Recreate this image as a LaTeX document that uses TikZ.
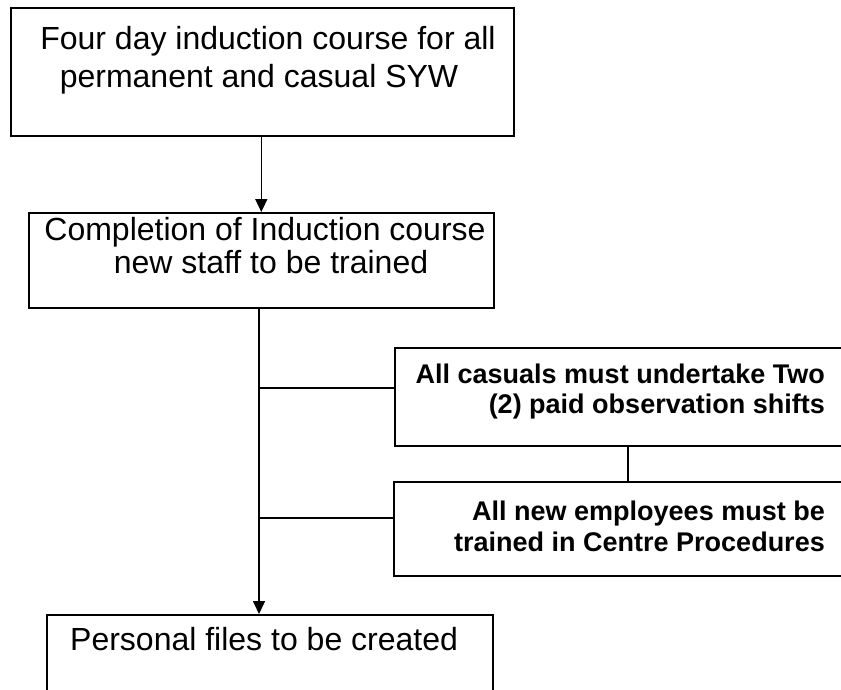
\documentclass[tikz,border=0pt]{standalone}
\usepackage{fontspec}
\setmainfont{Liberation Sans}
\usetikzlibrary{arrows.meta}
\tikzset{
  box/.style={draw=black, line width=1.6pt, minimum width=#1, inner sep=0pt, anchor=north west},
  reg/.style={font=\fontsize{32}{36}\selectfont, inner sep=0pt, anchor=base},
  bld/.style={font=\fontsize{27}{31}\selectfont\bfseries, inner sep=0pt, anchor=base east},
  link/.style={line width=1.6pt},
  arr/.style={line width=1.6pt, -{Triangle[length=13pt,width=12pt]}}
}
\begin{document}
\begin{tikzpicture}[x=1pt,y=-1pt]
\useasboundingbox (0,0) rectangle (841,689);
% boxes
\node[box=503pt, minimum height=128pt] (top) at (10,7) {};
\node[box=465pt, minimum height=95pt] (b2) at (28,212) {};
\node[box=447pt, minimum height=98pt] (b3) at (394,347) {};
\node[box=448pt, minimum height=94pt] (b4) at (393,481) {};
\node[box=446pt, minimum height=110pt] (b5) at (46,614) {};
% texts
\node[reg] (t1a) at (268,49) {Four day induction course for all};
\node[reg] (t1b) at (259,87) {permanent and casual SYW};
\node[reg] (t2a) at (265,240) {Completion of Induction course};
\node[reg] (t2b) at (271,273) {new staff to be trained};
\node[bld] (t3a) at (825,383) {All casuals must undertake Two};
\node[bld] (t3b) at (825,413) {(2) paid observation shifts};
\node[bld] (t4a) at (825,520) {All new employees must be};
\node[bld] (t4b) at (825,551) {trained in Centre Procedures};
\node[reg, anchor=base west] (t5) at (70,650) {Personal files to be created};
% connectors
\draw[arr] (top.south -| b2.north) -- (b2.north);
\coordinate (sx) at (259,0);
\draw[arr] (b2.south -| sx) -- (b5.north -| sx);
\coordinate (j1) at (259,388);
\coordinate (j2) at (259,518);
\draw[link] (j1) -- (j1 -| b3.west);
\draw[link] (j2) -- (j2 -| b4.west);
\coordinate (k) at (628,0);
\draw[link] (b3.south -| k) -- (b4.north -| k);
\end{tikzpicture}
\end{document}
